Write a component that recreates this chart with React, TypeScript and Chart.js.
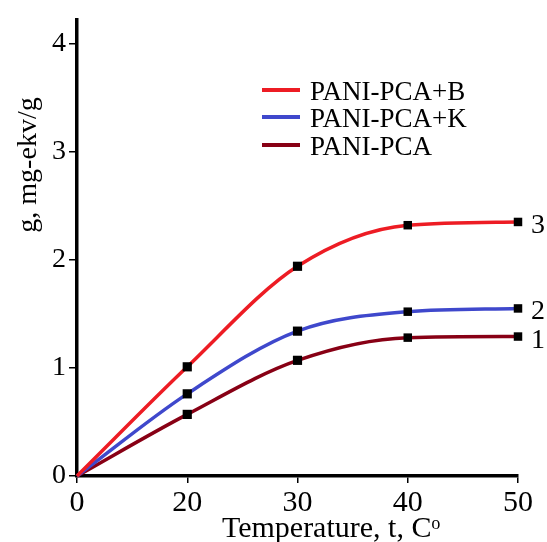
import React, { useEffect, useRef } from "react";
import { Chart, registerables } from "chart.js";

Chart.register(...registerables);

const categories = ["0", "20", "30", "40", "50"];
const seriesB = [0, 1.01, 1.94, 2.32, 2.35];
const seriesK = [0, 0.76, 1.34, 1.52, 1.55];
const seriesBase = [0, 0.57, 1.07, 1.28, 1.29];
const seriesNames = ["PANI-PCA+B", "PANI-PCA+K", "PANI-PCA"];
const endLabels = ["3", "2", "1"];
const yTicks = [0, 1, 2, 3, 4];
const colors = ["#ed1c24", "#3f48cc", "#880015"];
const xTitle = "Temperature, t, C\u1d52";
const yTitle = "g, mg-ekv/g";

const FONT = "'Liberation Serif', 'Times New Roman', serif";

const overlayPlugin = {
  id: "overlay",
  afterDatasetsDraw(chart: any) {
    const ctx = chart.ctx;
    ctx.save();
    // end labels
    ctx.fillStyle = "#000";
    ctx.font = `28px ${FONT}`;
    ctx.textAlign = "left";
    ctx.textBaseline = "alphabetic";
    chart.data.datasets.forEach((ds: any, i: number) => {
      const meta = chart.getDatasetMeta(i);
      const last = meta.data[meta.data.length - 1];
      ctx.fillText(endLabels[i], last.x + 13, last.y + 11);
    });
    // legend
    const lx = 262;
    const ys = [90, 117, 145];
    ctx.font = `27px ${FONT}`;
    seriesNames.forEach((name, i) => {
      ctx.strokeStyle = colors[i];
      ctx.lineWidth = 4;
      ctx.beginPath();
      ctx.moveTo(lx, ys[i]);
      ctx.lineTo(lx + 38, ys[i]);
      ctx.stroke();
      ctx.fillStyle = "#000";
      ctx.fillText(name, 310, ys[i] + 10);
    });
    // x title
    ctx.font = `30px ${FONT}`;
    ctx.textAlign = "center";
    ctx.fillText(xTitle, 331, 537);
    // y title
    ctx.translate(29, 165);
    ctx.rotate(-Math.PI / 2);
    ctx.textAlign = "center";
    ctx.textBaseline = "middle";
    ctx.font = `28px ${FONT}`;
    ctx.fillText(yTitle, 0, 0);
    ctx.restore();
  },
};

export default function App() {
  const ref = useRef<HTMLCanvasElement | null>(null);
  useEffect(() => {
    if (!ref.current) return;
    const pr = [0, 6.5, 6.5, 6, 6];
    const mk = (label: string, data: number[], color: string) => ({
      label,
      data,
      borderColor: color,
      backgroundColor: color,
      borderWidth: 3.5,
      cubicInterpolationMode: "monotone" as const,
      pointStyle: "rect" as const,
      pointRadius: pr,
      pointBackgroundColor: "#000",
      pointBorderColor: "#000",
      pointBorderWidth: 0,
      clip: false as any,
    });
    const chart = new Chart(ref.current, {
      type: "line",
      data: {
        labels: categories,
        datasets: [
          mk(seriesNames[0], seriesB, colors[0]),
          mk(seriesNames[1], seriesK, colors[1]),
          mk(seriesNames[2], seriesBase, colors[2]),
        ],
      },
      options: {
        animation: false,
        responsive: true,
        maintainAspectRatio: false,
        layout: { padding: { left: 0, right: 29, top: 8, bottom: 0 } },
        plugins: { legend: { display: false }, tooltip: { enabled: false } },
        scales: {
          x: {
            type: "category",
            offset: false,
            grid: {
              drawOnChartArea: false,
              drawTicks: true,
              tickLength: 7,
              color: "#000",
              lineWidth: 1.5,
            },
            border: { display: true, color: "#000", width: 3.5 },
            ticks: {
              color: "#000",
              font: { family: FONT, size: 30 },
              padding: 2,
              maxRotation: 0,
            },
            afterFit: (s: any) => {
              s.height = 66;
            },
          },
          y: {
            type: "linear",
            min: 0,
            max: 4.22,
            afterBuildTicks: (s: any) => {
              s.ticks = yTicks.map((v) => ({ value: v }));
            },
            grid: {
              drawOnChartArea: false,
              drawTicks: true,
              tickLength: 8,
              color: "#000",
              lineWidth: 1.5,
            },
            border: { display: true, color: "#000", width: 3.5 },
            ticks: {
              color: "#000",
              font: { family: FONT, size: 28 },
              padding: 3,
            },
            afterFit: (s: any) => {
              s.width = 77;
            },
          },
        },
      },
      plugins: [overlayPlugin],
    });
    return () => chart.destroy();
  }, []);
  return (
    <div style={{ position: "absolute", left: 0, top: 0, width: 547, height: 542, background: "#fff" }}>
      <canvas ref={ref} />
    </div>
  );
}
